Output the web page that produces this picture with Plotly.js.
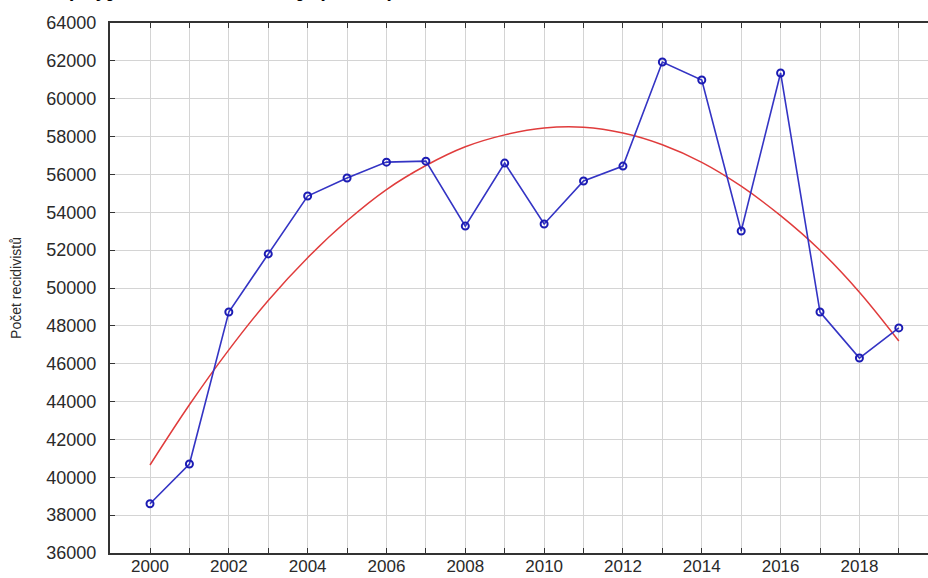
<!DOCTYPE html>
<html>
<head>
<meta charset="utf-8">
<script src="https://cdn.plot.ly/plotly-3.0.1.min.js"></script>
<style>html,body{margin:0;padding:0;background:#fff;}#chart{width:928px;height:578px;}</style>
</head>
<body>
<div id="chart"></div>
<script>
// Years
const years = [2000,2001,2002,2003,2004,2005,2006,2007,2008,2009,2010,2011,2012,2013,2014,2015,2016,2017,2018,2019];
// Observed number of recidivists
const recidivists = [38600,40700,48730,51800,54860,55810,56650,56700,53270,56600,53380,55650,56440,61940,60990,53010,61360,48730,46300,47890];
// Trend curve values (per year)
const trendValues = [40650,43830,46730,49340,51600,53550,55200,56470,57460,58090,58450,58490,58190,57570,56640,55380,53820,51990,49780,47200];
// Tick labels
const yTicks = [36000,38000,40000,42000,44000,46000,48000,50000,52000,54000,56000,58000,60000,62000,64000];
const xTicks = [2000,2002,2004,2006,2008,2010,2012,2014,2016,2018];
const yTitle = "Počet recidivistů";
const captionText = "Graf 1 Vývoj počtu recidivistů v ČR a polynomický trend";

const traces = [
  {
    x: years, y: trendValues, type: 'scatter', mode: 'lines',
    line: {color: '#e03c3c', width: 1.5, shape: 'spline', smoothing: 1.0},
    hoverinfo: 'skip', showlegend: false
  },
  {
    x: years, y: recidivists, type: 'scatter', mode: 'lines+markers',
    line: {color: '#3434c4', width: 1.6},
    marker: {symbol: 'circle-open', size: 7, color: '#1c1cb4', line: {width: 2, color: '#1c1cb4'}},
    showlegend: false
  }
];

const tickFont = {family: 'Liberation Sans, Arial, sans-serif', size: 17, color: '#2a2a2a'};

const layout = {
  width: 928, height: 578,
  margin: {l: 110, r: 0, t: 23, b: 25, pad: 0},
  paper_bgcolor: '#ffffff', plot_bgcolor: '#ffffff',
  showlegend: false,
  xaxis: {
    range: [1998.985, 2019.74],
    tickvals: xTicks, ticktext: xTicks.map(String),
    ticks: 'inside', ticklen: 5, tickcolor: '#333',
    showgrid: true, gridcolor: '#d4d4d4', gridwidth: 1,
    minor: {dtick: 1, tick0: 2000, ticks: 'inside', ticklen: 5, tickcolor: '#333', showgrid: true, gridcolor: '#d4d4d4', gridwidth: 1},
    showline: true, linecolor: '#333', linewidth: 2, mirror: 'ticks',
    tickfont: tickFont, zeroline: false, fixedrange: true,
    ticklabelstandoff: -3
  },
  yaxis: {
    range: [36000, 64000],
    tickvals: yTicks, ticktext: yTicks.map(String),
    ticks: 'inside', ticklen: 5, tickcolor: '#333',
    showgrid: true, gridcolor: '#d4d4d4', gridwidth: 1,
    showline: true, linecolor: '#333', linewidth: 2, mirror: false,
    tickfont: {family: 'Liberation Sans, Arial, sans-serif', size: 18, color: '#2a2a2a'},
    zeroline: false, fixedrange: true,
    ticklabelstandoff: 8,
    title: {text: yTitle, font: {family: 'Liberation Sans, Arial, sans-serif', size: 14, color: '#2a2a2a'}, standoff: 21}
  },
  annotations: [{
    text: '<b>' + captionText + '</b>',
    xref: 'paper', yref: 'paper', x: -0.135, y: 1.061, xanchor: 'left', yanchor: 'middle',
    showarrow: false,
    font: {family: 'Liberation Serif, Times New Roman, serif', size: 18, color: '#000'}
  }]
};

Plotly.newPlot('chart', traces, layout, {staticPlot: true, displayModeBar: false});
</script>
</body>
</html>
